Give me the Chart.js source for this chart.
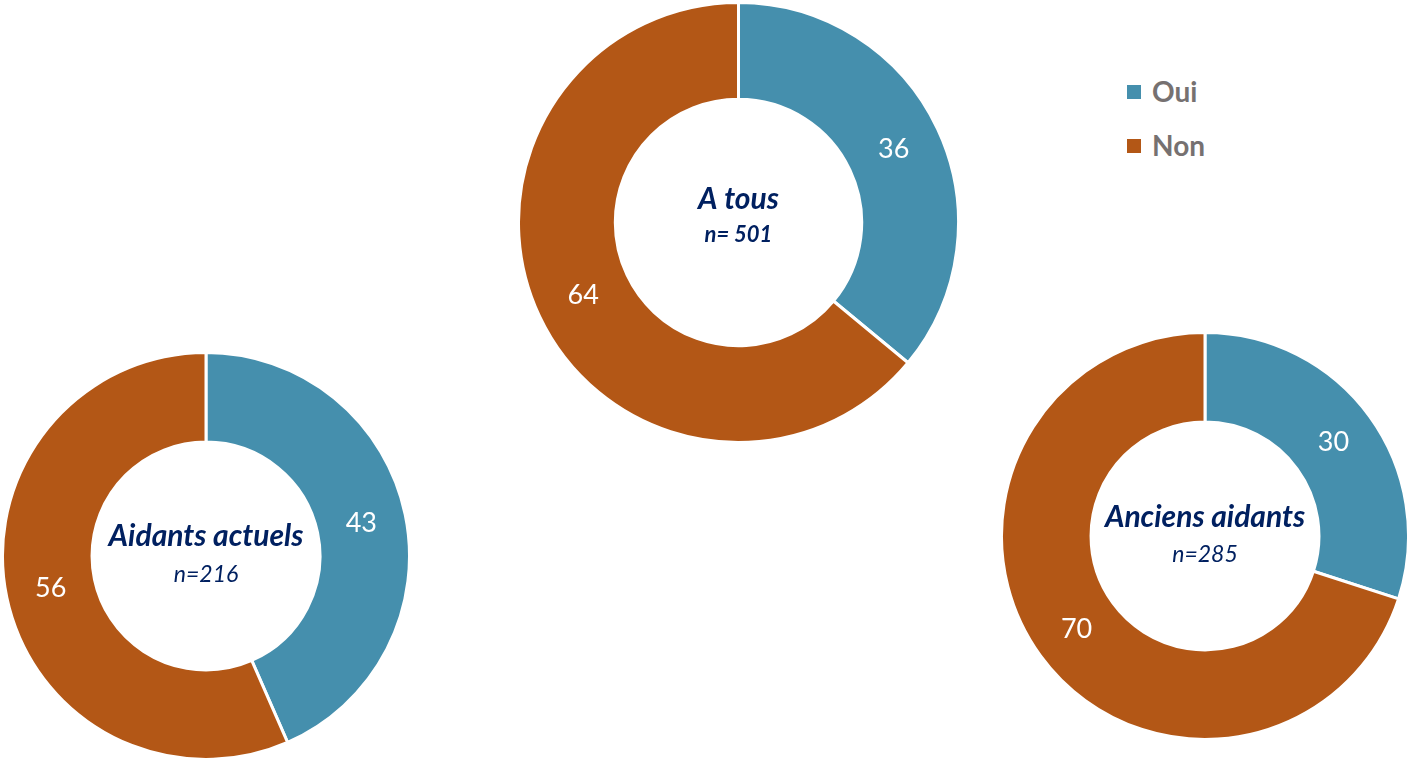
<!DOCTYPE html>
<html>

<head>
    <title>Oui / Non</title>
    <meta charset="utf-8">
    <style>
        body {
            margin: 0;
            background: #ffffff;
            font-family: 'Lato', sans-serif;
        }

        .stage {
            position: relative;
            width: 1407px;
            height: 760px;
            overflow: hidden;
        }

        .donut {
            position: absolute;
        }

        .legend {
            position: absolute;
            left: 1127px;
            top: 72px;
        }

        .legend-item {
            position: relative;
            height: 54px;
            color: #767171;
            font-weight: bold;
            font-size: 28px;
        }

        .legend-item .box {
            position: absolute;
            left: 0;
            top: 13px;
            width: 14px;
            height: 14px;
        }

        .legend-item .txt {
            position: absolute;
            left: 25px;
            top: 0;
            line-height: 38px;
        }
    </style>
</head>

<body>
    <div class="stage" id="stage">
        <div class="legend" id="legend"></div>
    </div>

    <script src="https://cdn.jsdelivr.net/npm/chart.js@4.4.1/dist/chart.umd.min.js"></script>

    <script>
        // answer categories and colours
        const categories = ['Oui', 'Non'];
        const colors = ['#458FAD', '#B35716'];

        // one donut per group (values in %)
        const groups = ['A tous', 'Aidants actuels', 'Anciens aidants'];
        const sampleSizes = ['n= 501', 'n=216', 'n=285'];
        const valuesAll = [36, 64];
        const valuesCurrent = [43, 56];
        const valuesFormer = [30, 70];

        // where each donut sits on the page (center x/y, outer radius)
        const layout = [
            { cx: 738, cy: 222, r: 220, titleDy: -14, subDy: 19, subFont: 'italic bold 22px Lato' },
            { cx: 206, cy: 556, r: 203.5, titleDy: -10, subDy: 26, subFont: 'italic 23px Lato' },
            { cx: 1205, cy: 536, r: 203.5, titleDy: -9, subDy: 26, subFont: 'italic 23px Lato' }
        ];
        const seriesList = [valuesAll, valuesCurrent, valuesFormer];
        const BORDER = 3;

        // values written in the middle of each ring
        const ringLabels = {
            id: 'ringLabels',
            afterDatasetsDraw(chart) {
                const ctx = chart.ctx;
                const meta = chart.getDatasetMeta(0);
                const data = chart.data.datasets[0].data;
                ctx.save();
                ctx.fillStyle = '#ffffff';
                ctx.font = '27px Lato';
                ctx.textAlign = 'center';
                ctx.textBaseline = 'middle';
                meta.data.forEach((arc, i) => {
                    const p = arc.tooltipPosition();
                    ctx.fillText(String(data[i]), p.x, p.y);
                });
                ctx.restore();
            }
        };

        // group name + sample size in the hole
        const centerText = {
            id: 'centerText',
            afterDraw(chart, args, opts) {
                const ctx = chart.ctx;
                const arc = chart.getDatasetMeta(0).data[0];
                ctx.save();
                ctx.fillStyle = '#002060';
                ctx.textAlign = 'center';
                ctx.textBaseline = 'alphabetic';
                ctx.font = 'italic bold 30px Lato';
                ctx.fillText(opts.title, arc.x, arc.y + opts.titleDy);
                ctx.font = opts.subFont;
                ctx.fillText(opts.sub, arc.x, arc.y + opts.subDy);
                ctx.restore();
            }
        };

        const stage = document.getElementById('stage');

        groups.forEach((name, i) => {
            const pos = layout[i];
            const size = Math.round(pos.r * 2 + BORDER);
            const wrap = document.createElement('div');
            wrap.className = 'donut';
            wrap.style.left = Math.round(pos.cx - size / 2) + 'px';
            wrap.style.top = Math.round(pos.cy - size / 2) + 'px';
            const canvas = document.createElement('canvas');
            canvas.width = size;
            canvas.height = size;
            wrap.appendChild(canvas);
            stage.appendChild(wrap);

            new Chart(canvas.getContext('2d'), {
                type: 'doughnut',
                data: {
                    labels: categories,
                    datasets: [{
                        data: seriesList[i],
                        backgroundColor: colors,
                        borderColor: '#ffffff',
                        borderWidth: BORDER
                    }]
                },
                options: {
                    responsive: false,
                    animation: false,
                    cutout: '56%',
                    layout: { padding: 0 },
                    plugins: {
                        legend: { display: false },
                        tooltip: { enabled: false },
                        centerText: {
                            title: name,
                            sub: sampleSizes[i],
                            titleDy: pos.titleDy,
                            subDy: pos.subDy,
                            subFont: pos.subFont
                        }
                    }
                },
                plugins: [ringLabels, centerText]
            });
        });

        // legend built from the categories
        const legend = document.getElementById('legend');
        categories.forEach((c, i) => {
            const item = document.createElement('div');
            item.className = 'legend-item';
            item.innerHTML = '<span class="box" style="background:' + colors[i] + '"></span><span class="txt">' + c + '</span>';
            legend.appendChild(item);
        });
    </script>
</body>

</html>
